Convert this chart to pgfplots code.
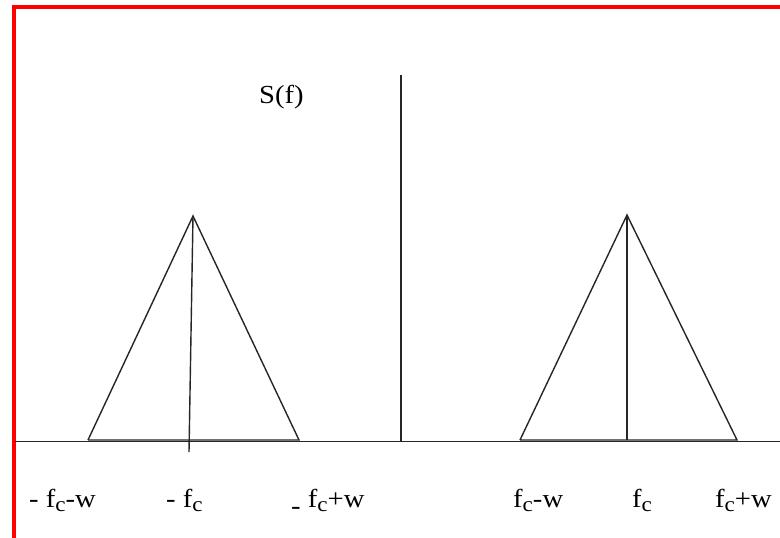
\documentclass[border=0pt]{standalone}
\usepackage{pgfplots}
\pgfplotsset{compat=1.18}
\usepackage{fontspec}
\setmainfont{Liberation Serif}[FakeStretch=1.1]
% subscript as set in the labels: slightly smaller, lowered
\newcommand\sub[1]{\raisebox{-4bp}{\fontsize{21bp}{21bp}\selectfont #1}}
\tikzset{lbl/.style={anchor=base west, inner sep=0pt, font=\fontsize{26bp}{30bp}\selectfont}}
\pgfplotsset{ln/.style={line width=1.4bp, black!85, no marks, solid}}
\begin{document}
\begin{tikzpicture}
\useasboundingbox (0,0) rectangle (780bp,538bp);
\begin{axis}[
  at={(0,0)}, anchor=south west,
  scale only axis, width=780bp, height=538bp,
  xmin=0, xmax=780, ymin=0, ymax=538, y dir=reverse,
  hide axis, clip=false,
]
% frame
\addplot[red, line width=4bp, no marks] coordinates {(14,538) (14,7) (780,7)};
% frequency axis and vertical axis
\addplot[ln] coordinates {(15,441.5) (780,441.5)};
\addplot[ln] coordinates {(401,75) (401,441.5)};
% spectrum around -fc
\addplot[ln] coordinates {(88,440) (193,216) (299,440) (88,440)};
\addplot[ln] coordinates {(193,216) (189,452)};
% spectrum around +fc
\addplot[ln] coordinates {(520,440) (627,215) (737,440) (520,440)};
\addplot[ln] coordinates {(627,215) (627,440)};
% labels
\node[lbl] at (axis cs:259,103) {S(f)};
\node[lbl] at (axis cs:29,507) {- f\sub{c}-w};
\node[lbl] at (axis cs:166,507) {- f\sub{c}};
\node[lbl] at (axis cs:291,507) {\raisebox{-7bp}{-} f\sub{c}+w};
\node[lbl] at (axis cs:513,507) {f\sub{c}-w};
\node[lbl] at (axis cs:632,507) {f\sub{c}};
\node[lbl] at (axis cs:715,507) {f\sub{c}+w};
\end{axis}
\end{tikzpicture}
\end{document}
